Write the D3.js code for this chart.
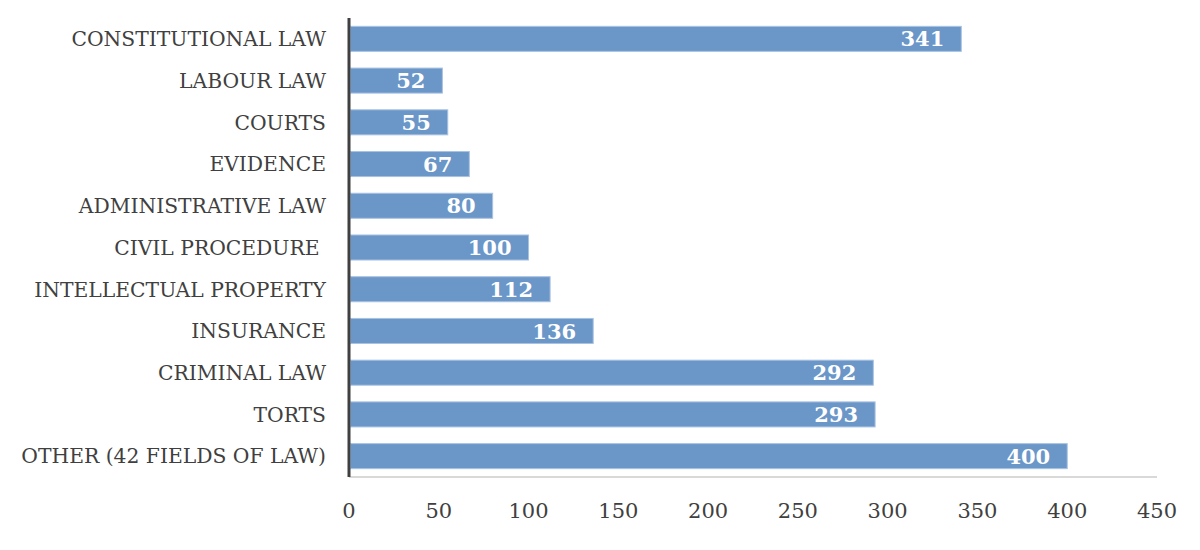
<!DOCTYPE html>
<html>
<head>
<meta charset="utf-8">
<script src="https://cdn.jsdelivr.net/npm/d3@7"></script>
<style>
  body { margin: 0; background: #fff; }
  text { font-family: "DejaVu Serif", serif; }
</style>
</head>
<body>
<svg id="chart" width="1200" height="550"></svg>
<script>
const categories = ["CONSTITUTIONAL LAW", "LABOUR LAW", "COURTS", "EVIDENCE", "ADMINISTRATIVE LAW",
    "CIVIL PROCEDURE ", "INTELLECTUAL PROPERTY", "INSURANCE", "CRIMINAL LAW", "TORTS", "OTHER (42 FIELDS OF LAW)"];
const counts = [341, 52, 55, 67, 80, 100, 112, 136, 292, 293, 400];
const ticks = [0, 50, 100, 150, 200, 250, 300, 350, 400, 450];

const svg = d3.select("#chart");
const margin = {left: 349, right: 43, top: 18, bottom: 73};
const width = 1200 - margin.left - margin.right, height = 550 - margin.top - margin.bottom;

let x = d3.scaleLinear().domain([0, 450]).range([margin.left, margin.left + width]);
let y = d3.scaleBand().domain(categories).range([margin.top, margin.top + height]).paddingInner(0.4).paddingOuter(0.2);

//baseline
svg.append("line")
    .attr("x1", x(0)).attr("x2", x(450))
    .attr("y1", margin.top + height).attr("y2", margin.top + height)
    .attr("stroke", "#d9d9d9").attr("stroke-width", 2);

//bars
let data = categories.map((c, i) => ({cat: c, val: counts[i]}));
svg.selectAll(".bar").data(data).join("rect")
    .attr("class", "bar")
    .attr("x", x(0) + 1.5)
    .attr("y", d => y(d.cat))
    .attr("width", d => x(d.val) - x(0) - 1.5)
    .attr("height", y.bandwidth())
    .attr("fill", "#6a96c8")
    .attr("stroke", "#a8c2e2")
    .attr("stroke-width", 1);

//value labels
svg.selectAll(".val").data(data).join("text")
    .attr("class", "val")
    .attr("x", d => x(d.val) - 17)
    .attr("y", d => y(d.cat) + y.bandwidth() / 2)
    .attr("dy", "0.36em")
    .attr("text-anchor", "end")
    .attr("fill", "#fff")
    .attr("font-weight", "bold")
    .attr("font-size", 21)
    .text(d => d.val);

//category labels
svg.selectAll(".cat").data(categories).join("text")
    .attr("class", "cat")
    .attr("x", margin.left - 23)
    .attr("y", d => y(d) + y.bandwidth() / 2)
    .attr("dy", "0.36em")
    .attr("text-anchor", "end")
    .attr("fill", "#404040")
    .attr("font-size", 20.3)
    .style("white-space", "pre")
    .text(d => d);

//tick labels
svg.selectAll(".tick-label").data(ticks).join("text")
    .attr("class", "tick-label")
    .attr("x", d => x(d))
    .attr("y", 510)
    .attr("dy", "0.36em")
    .attr("text-anchor", "middle")
    .attr("fill", "#404040")
    .attr("font-size", 21)
    .text(d => d);

//y axis line
svg.append("line")
    .attr("x1", x(0)).attr("x2", x(0))
    .attr("y1", margin.top).attr("y2", margin.top + height)
    .attr("stroke", "#404040").attr("stroke-width", 3);
</script>
</body>
</html>
